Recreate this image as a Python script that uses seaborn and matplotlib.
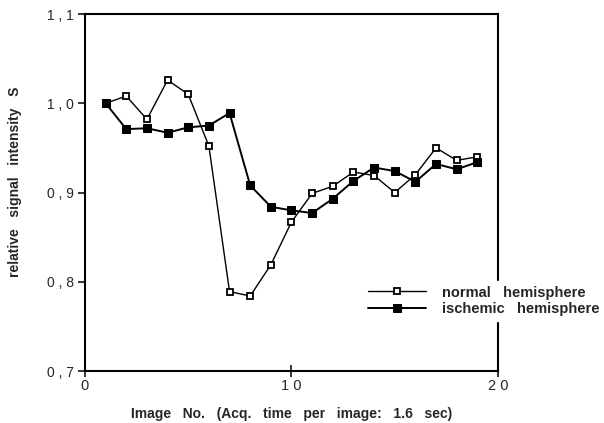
import matplotlib
matplotlib.use('Agg')

import matplotlib.pyplot as plt
import seaborn as sns
import pandas as pd
from matplotlib.ticker import FuncFormatter

# data
image_no = list(range(1, 20))
normal = [1.000, 1.008, 0.982, 1.026, 1.010, 0.952, 0.789, 0.784, 0.819, 0.867,
          0.899, 0.907, 0.923, 0.919, 0.900, 0.920, 0.950, 0.936, 0.940]
ischemic = [1.000, 0.971, 0.972, 0.967, 0.973, 0.975, 0.989, 0.908, 0.884, 0.880,
            0.877, 0.893, 0.913, 0.928, 0.924, 0.912, 0.932, 0.926, 0.934]
labels = ['normal   hemisphere', 'ischemic   hemisphere']
x_ticks = [0, 10, 20]
y_ticks = [0.7, 0.8, 0.9, 1.0, 1.1]


def main():
    sns.set_style('ticks')
    plt.rcParams['font.family'] = ['Liberation Sans', 'DejaVu Sans']

    df = pd.DataFrame({'x': image_no, 'normal': normal, 'ischemic': ischemic})

    fig = plt.figure(figsize=(6.04, 4.23), dpi=100)
    ax = fig.add_axes([0.1407, 0.1229, 0.6838, 0.844])

    sns.lineplot(data=df, x='x', y='normal', ax=ax, color='black', lw=1.0,
                 marker='s', markersize=5, markerfacecolor='white',
                 markeredgecolor='black', markeredgewidth=1.3, label=labels[0])
    sns.lineplot(data=df, x='x', y='ischemic', ax=ax, color='black', lw=1.4,
                 marker='s', markersize=6, markerfacecolor='black',
                 markeredgecolor='black', label=labels[1])

    ax.set_xlim(0, 20)
    ax.set_ylim(0.7, 1.1)
    ax.set_xticks(x_ticks)
    ax.set_yticks(y_ticks)
    ax.yaxis.set_major_formatter(FuncFormatter(lambda v, p: ('%.1f' % v).replace('.', ' , ')))
    ax.xaxis.set_major_formatter(FuncFormatter(lambda v, p: ' '.join(str(int(v)))))
    for s in ax.spines.values():
        s.set_linewidth(1.5)
        s.set_color('black')
    ax.tick_params(axis='y', direction='out', length=5, width=1.3, labelsize=10, pad=3)
    ax.tick_params(axis='x', direction='inout', length=8, width=1.3, labelsize=10.5, pad=2)

    ax.set_xlabel('Image   No.   (Acq.   time   per   image:   1.6   sec)',
                  fontsize=10, fontweight='bold', labelpad=10)
    ax.set_ylabel('relative   signal   intensity   S', fontsize=10, fontweight='bold')
    ax.yaxis.set_label_coords(-0.152, 0.53)

    leg = ax.legend(loc='center left', bbox_to_anchor=(356 / 604, (423 - 301) / 423),
                    bbox_transform=fig.transFigure, frameon=True, fancybox=False,
                    handlelength=4.0, handletextpad=1.1, labelspacing=0.2,
                    borderpad=0.3, prop={'size': 10.5, 'weight': 'bold'})
    leg.get_frame().set_edgecolor('white')
    leg.get_frame().set_facecolor('white')
    leg.get_frame().set_alpha(1)

    fig.savefig('out.png', dpi=100)


if __name__ == "__main__":
    main()
